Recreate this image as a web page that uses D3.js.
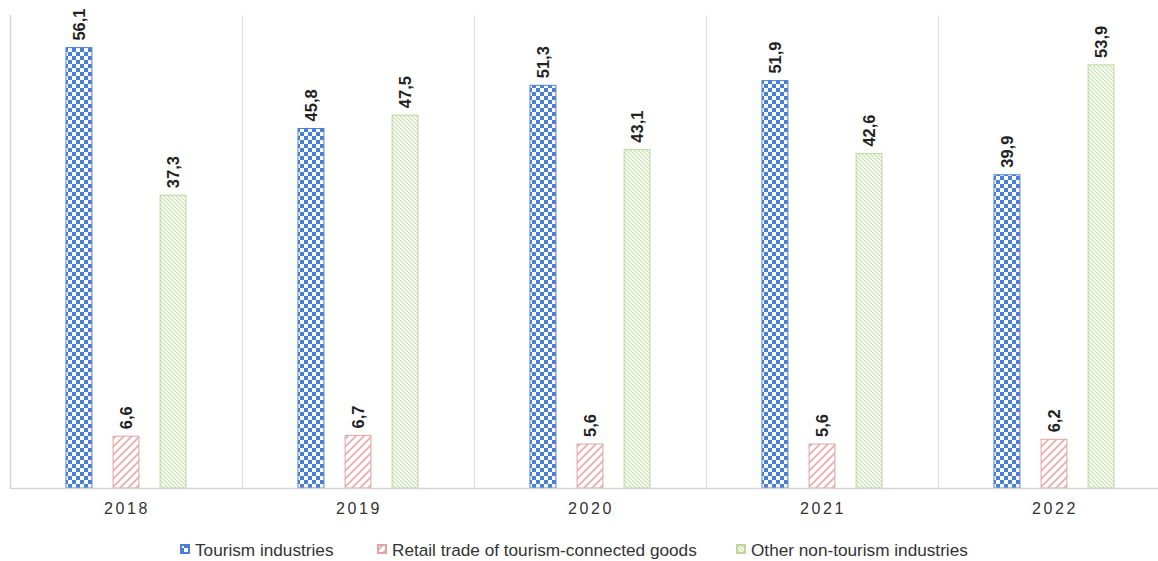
<!DOCTYPE html>
<html>
<head>
<meta charset="utf-8">
<script src="https://cdn.jsdelivr.net/npm/d3@7"></script>
<style>
  html, body { margin: 0; padding: 0; background: #fff; }
  svg { display: block; font-family: "Liberation Sans", Arial, sans-serif; }
</style>
</head>
<body>
<svg id="chart" width="1158" height="561"></svg>
<script>
const years = ["2018", "2019", "2020", "2021", "2022"];
const series_names = ["Tourism industries", "Retail trade of tourism-connected goods", "Other non-tourism industries"];
const tourism = [56.1, 45.8, 51.3, 51.9, 39.9];
const retail = [6.6, 6.7, 5.6, 5.6, 6.2];
const other = [37.3, 47.5, 43.1, 42.6, 53.9];

const series_values = [tourism, retail, other];
const series_keys = ["tourism", "retail", "other"];
const strokes = ["#4a7fd6", "#e4a3a3", "#bcd89a"];

const margin = {top: 17, left: 10, bottom: 488};
const plot_right = 1170;

const svg = d3.select("#chart");
const defs = svg.append("defs");

// checkerboard for tourism
const checker = defs.append("pattern")
    .attr("id", "pat-tourism")
    .attr("patternUnits", "userSpaceOnUse")
    .attr("width", 8).attr("height", 8);
checker.append("rect").attr("width", 8).attr("height", 8).attr("fill", "#fff");
checker.append("rect").attr("width", 4).attr("height", 4).attr("fill", "#4a7fd6");
checker.append("rect").attr("x", 4).attr("y", 4).attr("width", 4).attr("height", 4).attr("fill", "#4a7fd6");

// wide upward diagonal for retail
const diag = defs.append("pattern")
    .attr("id", "pat-retail")
    .attr("patternUnits", "userSpaceOnUse")
    .attr("width", 8).attr("height", 8);
diag.append("rect").attr("width", 8).attr("height", 8).attr("fill", "#fff");
diag.append("path").attr("d", "M-2,2 L2,-2 M0,8 L8,0 M6,10 L10,6")
    .attr("stroke", "#eaa9a9").attr("stroke-width", 1.6);

// dense downward diagonal for other
const diag2 = defs.append("pattern")
    .attr("id", "pat-other")
    .attr("patternUnits", "userSpaceOnUse")
    .attr("width", 4).attr("height", 4);
diag2.append("rect").attr("width", 4).attr("height", 4).attr("fill", "#fff");
diag2.append("path").attr("d", "M-1,-1 L5,5 M-1,3 L1,5 M3,-1 L5,1")
    .attr("stroke", "#c5dfa6").attr("stroke-width", 1.1);

const x0 = d3.scaleBand()
    .domain(years)
    .range([margin.left, plot_right]);

const x1 = d3.scaleBand()
    .domain(series_keys)
    .range([0, x0.bandwidth()])
    .paddingInner(0.45)
    .paddingOuter(1.19);

const y = d3.scaleLinear()
    .domain([0, 60])
    .range([margin.bottom, margin.top]);

// separators between categories
const grid = svg.append("g");
years.slice(1).forEach(yr => {
    grid.append("line")
        .attr("x1", x0(yr) + 0.5).attr("x2", x0(yr) + 0.5)
        .attr("y1", y(60) - 2).attr("y2", y(0))
        .attr("stroke", "#e3e3e3").attr("stroke-width", 1.2);
});
grid.append("line")
    .attr("x1", margin.left + 0.5).attr("x2", margin.left + 0.5)
    .attr("y1", y(60) - 2).attr("y2", y(0))
    .attr("stroke", "#d6d6d6").attr("stroke-width", 1.5);

// bars
series_keys.forEach((key, i) => {
    const g = svg.append("g");
    g.selectAll("rect")
        .data(series_values[i])
        .enter()
        .append("rect")
        .attr("x", (d, j) => x0(years[j]) + x1(key))
        .attr("y", d => y(d))
        .attr("width", x1.bandwidth())
        .attr("height", d => y(0) - y(d))
        .attr("fill", `url(#pat-${key})`)
        .attr("stroke", strokes[i])
        .attr("stroke-width", 1);

    g.selectAll("text")
        .data(series_values[i])
        .enter()
        .append("text")
        .attr("transform", (d, j) => {
            const cx = x0(years[j]) + x1(key) + x1.bandwidth() / 2 + 6;
            return `translate(${cx},${y(d) - 7}) rotate(-90)`;
        })
        .attr("font-size", 16.5)
        .attr("font-weight", "bold")
        .attr("fill", "#222")
        .text(d => d.toFixed(1).replace(".", ","));
});

// baseline
svg.append("line")
    .attr("x1", margin.left).attr("x2", 1158)
    .attr("y1", y(0) + 0.5).attr("y2", y(0) + 0.5)
    .attr("stroke", "#d6d6d6").attr("stroke-width", 1.5);

// category labels
svg.append("g").selectAll("text")
    .data(years)
    .enter()
    .append("text")
    .attr("x", d => x0(d) + x0.bandwidth() / 2 + 1)
    .attr("y", 514)
    .attr("text-anchor", "middle")
    .attr("font-size", 16)
    .attr("letter-spacing", 2.6)
    .attr("fill", "#333")
    .text(d => d);

// legend
const legend_x = [181, 378, 737];
const legend = svg.append("g");
series_names.forEach((name, i) => {
    legend.append("rect")
        .attr("x", legend_x[i]).attr("y", 545)
        .attr("width", 8).attr("height", 8)
        .attr("fill", `url(#pat-${series_keys[i]})`)
        .attr("stroke", strokes[i])
        .attr("stroke-width", 2);
    legend.append("text")
        .attr("x", legend_x[i] + 14)
        .attr("y", 555.5)
        .attr("font-size", 17.2)
        .attr("fill", "#333")
        .text(name);
});
</script>
</body>
</html>
